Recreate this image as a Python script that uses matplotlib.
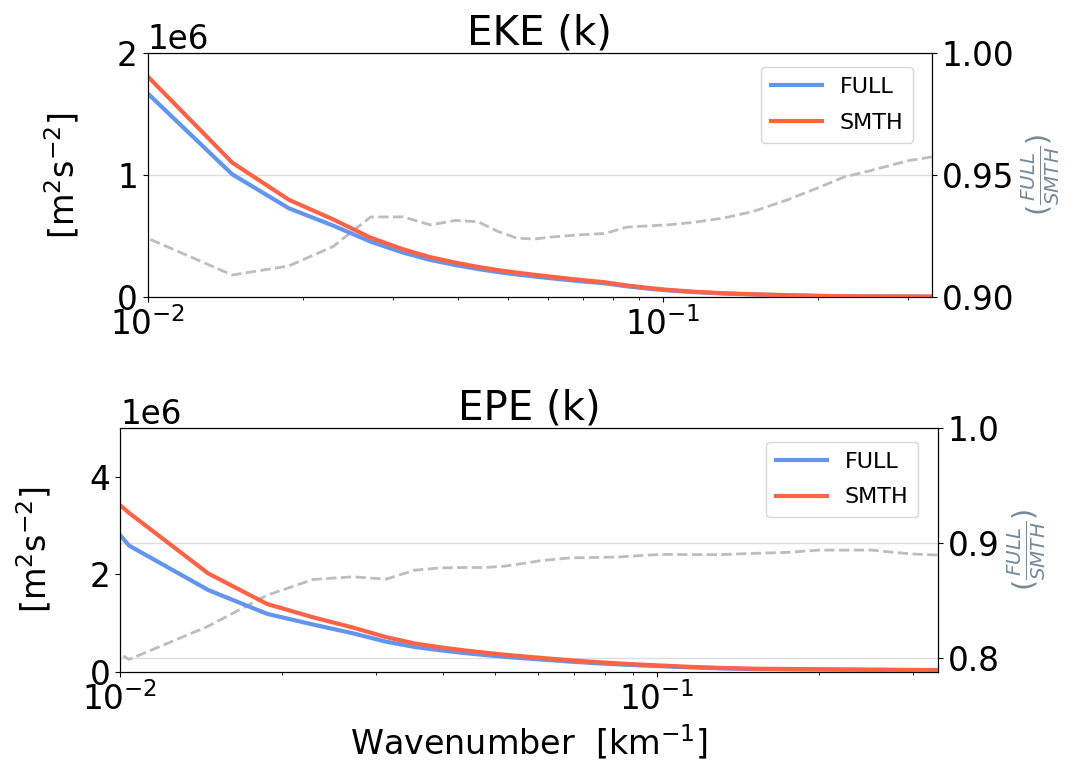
import numpy as np
import matplotlib
matplotlib.use('Agg')
import matplotlib.pyplot as plt

# wavenumber bins [1/km]
k = [0.00625, 0.0104, 0.0146, 0.0188, 0.0229, 0.0271, 0.0313, 0.0354, 0.0396, 0.0438,
     0.0479, 0.0521, 0.0563, 0.0604, 0.0688, 0.0771, 0.0854, 0.0938, 0.1021, 0.1146,
     0.1313, 0.15, 0.175, 0.2, 0.225, 0.25, 0.275, 0.3, 0.3333]

# EKE spectra (x 1e6)
eke_full = [2.49, 1.602, 1.008, 0.73, 0.589, 0.457, 0.368, 0.307, 0.265, 0.233,
            0.208, 0.188, 0.172, 0.158, 0.134, 0.116, 0.091, 0.0725, 0.0586, 0.0443,
            0.0326, 0.0247, 0.0176, 0.0127, 0.0095, 0.0087, 0.0081, 0.0075, 0.0067]
eke_smth = [2.69, 1.737, 1.104, 0.80, 0.64, 0.49, 0.395, 0.33, 0.285, 0.25,
            0.224, 0.203, 0.186, 0.171, 0.145, 0.125, 0.098, 0.078, 0.063, 0.0476,
            0.035, 0.0264, 0.0187, 0.0134, 0.010, 0.0092, 0.0085, 0.0078, 0.007]
eke_ratio = [0.943, 0.9227, 0.9092, 0.9129, 0.9208, 0.9329, 0.933, 0.9297, 0.9315, 0.931,
             0.927, 0.9243, 0.9239, 0.9247, 0.9256, 0.9262, 0.9288, 0.9293, 0.9297, 0.9307,
             0.9325, 0.9352, 0.940, 0.9448, 0.9493, 0.9516, 0.9539, 0.956, 0.9575]

# EPE spectra (x 1e6)
epe_full = [5.44, 2.59, 1.68, 1.191, 0.972, 0.795, 0.621, 0.512, 0.443, 0.389,
            0.347, 0.3115, 0.283, 0.258, 0.214, 0.180, 0.1545, 0.134, 0.1175, 0.0952,
            0.0746, 0.0609, 0.055, 0.0504, 0.0467, 0.0434, 0.0406, 0.0382, 0.0356]
epe_smth = [5.34, 3.26, 2.02, 1.393, 1.12, 0.913, 0.715, 0.584, 0.504, 0.443,
            0.395, 0.354, 0.321, 0.292, 0.241, 0.203, 0.174, 0.151, 0.132, 0.107,
            0.0838, 0.0684, 0.0617, 0.0564, 0.0522, 0.0485, 0.0455, 0.0429, 0.04]
epe_ratio = [0.862, 0.7989, 0.8278, 0.8548, 0.8684, 0.8707, 0.8687, 0.8765, 0.8785, 0.8788,
             0.8788, 0.88, 0.8823, 0.8846, 0.8872, 0.8875, 0.888, 0.8893, 0.8902, 0.89,
             0.890, 0.891, 0.892, 0.8939, 0.8939, 0.894, 0.892, 0.8905, 0.8896]

fig = plt.figure(figsize=(10.73, 7.62), dpi=100)
ax_top = fig.add_axes([0.1375, 0.6096, 0.7311, 0.3208])
ax_bot = fig.add_axes([0.1118, 0.1181, 0.7624, 0.3202])

panels = [
    (ax_top, 'EKE (k)', eke_full, eke_smth, eke_ratio, (0, 2e6), [0, 1e6, 2e6], (0.9, 1.0), [0.9, 0.95, 1.0]),
    (ax_bot, 'EPE (k)', epe_full, epe_smth, epe_ratio, (0, 5e6), [0, 2e6, 4e6], (0.788, 1.0), [0.8, 0.9, 1.0]),
]

for ax, title, full, smth, ratio, ylim, yticks, rlim, rticks in panels:
    # ratio FULL/SMTH on the right axis, kept underneath the spectra
    ax2 = ax.twinx()
    ax2.plot(k, ratio, '--', color='#bdbdbd', lw=2)
    ax2.set_ylim(rlim)
    ax2.set_yticks(rticks)
    ax2.grid(axis='y', color='#dddddd', lw=1)
    ax2.tick_params(labelsize=23.5)
    ax2.set_ylabel(r'$(\frac{FULL}{SMTH})$', color='lightslategray', fontsize=20.5)

    ax.plot(k, np.array(full) * 1e6, color='cornflowerblue', lw=3, label='FULL')
    ax.plot(k, np.array(smth) * 1e6, color='tomato', lw=3, label='SMTH')
    ax.set_zorder(ax2.get_zorder() + 1)
    ax.patch.set_visible(False)
    ax.set_xscale('log')
    ax.set_xlim(0.01, 1 / 3)
    ax.set_ylim(ylim)
    ax.set_yticks(yticks)
    ax.tick_params(labelsize=23.5)
    ax.yaxis.get_offset_text().set_fontsize(23.5)
    ax.set_ylabel(r'[m$^2$s$^{-2}$]', fontsize=24, labelpad=26)
    ax.set_title(title, fontsize=29)
    ax.legend(loc='upper right', bbox_to_anchor=(0.976, 0.943), borderaxespad=0,
              fontsize=16, handlelength=2.3, borderpad=0.45, labelspacing=0.7)

ax_bot.set_xlabel(r'Wavenumber  [km$^{-1}$]', fontsize=24)

plt.savefig('out.png', dpi=100)
